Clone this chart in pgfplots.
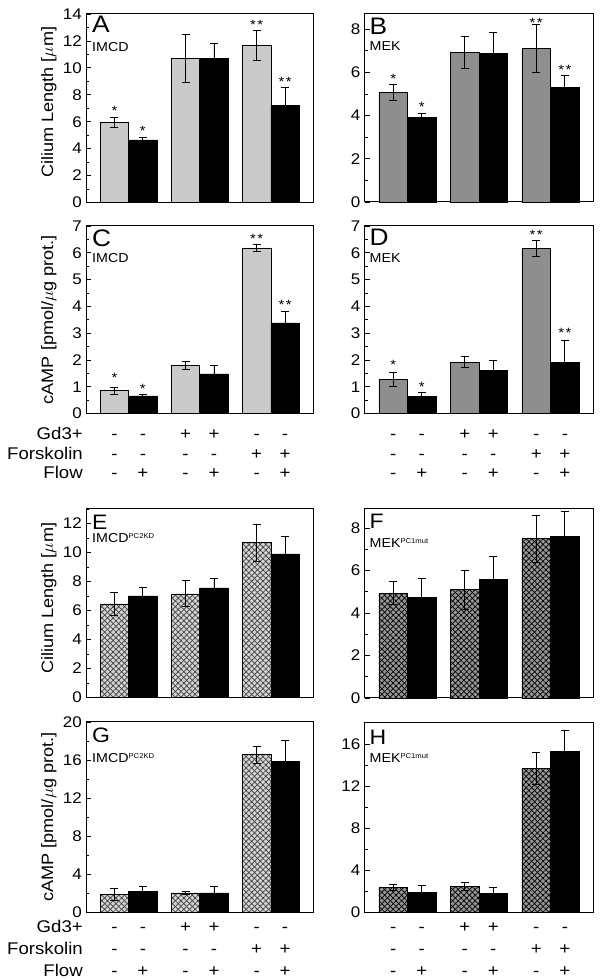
\documentclass[border=0pt]{standalone}
\usepackage{fontspec}
\setmainfont{Liberation Sans}[FakeStretch=1.1]
\usepackage{pgfplots}
\pgfplotsset{compat=1.18}
\usetikzlibrary{patterns.meta}
\definecolor{lg}{RGB}{202,202,202}
\definecolor{dg}{RGB}{142,142,142}
\definecolor{hlg}{RGB}{212,212,212}
\definecolor{hdg}{RGB}{150,150,150}
\DeclareRobustCommand\sgn[3]{\strut#1\\\strut#2\\\strut#3}
\pgfplotsset{
  panel/.style={
    scale only axis, anchor=south west, clip=false,
    xmin=-0.6, xmax=2.6, ymin=0,
    xtick=\empty, ytick pos=left, tick align=inside,
    major tick length=5bp, minor tick length=3bp, minor y tick num=1,
    axis line style={line width=1bp},
    every tick/.append style={line width=0.8bp, black},
    yticklabel style={font=\fontsize{15.5}{18}\selectfont, inner sep=0pt, xshift=-4bp},
    /pgf/number format/assume math mode=true,
    ylabel style={font=\fontsize{16.5}{20}\selectfont, anchor=base},
  },
  leftcol/.style={width=227.5bp},
  rightcol/.style={width=229bp},
  signs/.style={
    xtick={-0.2,0.2,0.8,1.2,1.8,2.2},
    xticklabels={\sgn{-}{-}{-},\sgn{-}{-}{+},\sgn{+}{-}{-},\sgn{+}{-}{+},\sgn{-}{+}{-},\sgn{-}{+}{+}},
    xtick style={draw=none},
    xticklabel style={align=center, inner sep=0pt, font=\fontsize{17}{#1}\selectfont},
  },
  barbase/.style={ybar, bar width=0.4, bar shift=0pt, draw=black, line width=0.6bp,
    error bars/.cd, y dir=both, y explicit,
    error bar style={line width=0.8bp, black},
    error mark options={rotate=90, mark size=4bp, line width=0.8bp, black}},
  solidbar/.style={fill=#1, barbase},
  hatchbar/.style 2 args={fill=#1,
    postaction={pattern={Lines[angle=45,distance=4bp,line width=0.7bp]}, pattern color=#2},
    postaction={pattern={Lines[angle=-45,distance=4bp,line width=0.7bp]}, pattern color=#2},
    barbase},
  stars/.style={draw=none, mark=none, nodes near coords, point meta=explicit symbolic,
    every node near coord/.append style={anchor=south, inner sep=1bp, font=\fontsize{13.5}{13.5}\selectfont}},
}
\newcommand\panelletter[4][24]{\node[anchor=north west, inner sep=0pt, font=\fontsize{#1}{#1}\selectfont] at ([xshift=#3, yshift=#4]axis description cs:0,1) {#2};}
\newcommand\panelsub[3]{\node[anchor=north west, inner sep=0pt, font=\fontsize{13}{13}\selectfont] at ([xshift=#2, yshift=#3]axis description cs:0,1) {#1};}
\newcommand\supx[1]{\raisebox{3.5bp}{\fontsize{7}{7}\selectfont #1}}
\newcommand\rowlabels[2]{\node[anchor=north east, inner sep=0pt, align=right, font=\fontsize{17}{#1}\selectfont] at ([xshift=-3bp, yshift=#2]axis description cs:0,0) {\strut Gd3+\\\strut Forskolin\\\strut Flow};}
\begin{document}
\begin{tikzpicture}
\path[use as bounding box] (0,0) rectangle (602bp,980bp);
% ---------- A ----------
\begin{axis}[panel, leftcol, at={(86bp,777.5bp)}, height=188.5bp, ymax=14, ytick distance=2,
  ylabel={Cilium Length [$\mu$m]}, ylabel style={at={([xshift=-33bp, yshift=6bp]axis description cs:0,0.5)}}]
\addplot[solidbar=lg] coordinates {(-0.2,5.95) +- (0,0.4) (0.8,10.7) +- (0,1.8) (1.8,11.65) +- (0,1.12)};
\addplot[solidbar=black] coordinates {(0.2,4.65) +- (0,0.22) (1.2,10.7) +- (0,1.15) (2.2,7.2) +- (0,1.35)};
\addplot[stars] coordinates {(-0.2,6.35) [*] (0.2,4.87) [*] (1.8,12.77) [*\kern1.5bp*] (2.2,8.55) [*\kern1.5bp*]};
\panelletter{A}{6bp}{-2bp}
\panelsub{IMCD}{6bp}{-28bp}
\end{axis}
% ---------- B ----------
\begin{axis}[panel, rightcol, at={(364.5bp,778bp)}, height=188bp, ymax=8.7, ytick={0,2,4,6,8}]
\addplot[solidbar=dg] coordinates {(-0.2,5.07) +- (0,0.38) (0.8,6.92) +- (0,0.74) (1.8,7.1) +- (0,1.1)};
\addplot[solidbar=black] coordinates {(0.2,3.92) +- (0,0.2) (1.2,6.87) +- (0,1.0) (2.2,5.32) +- (0,0.54)};
\addplot[stars] coordinates {(-0.2,5.45) [*] (0.2,4.12) [*] (1.8,8.04) [*\kern1.5bp*] (2.2,5.86) [*\kern1.5bp*]};
\panelletter{B}{5bp}{-4bp}
\panelsub{MEK}{5bp}{-27bp}
\end{axis}
% ---------- C ----------
\begin{axis}[panel, leftcol, signs=19.8bp, xticklabel style={yshift=-11.8bp}, at={(86bp,566.5bp)}, height=187.5bp, ymax=7, ytick distance=1,
  ylabel={cAMP [pmol/$\mu$g prot.]}, ylabel style={at={([xshift=-33bp]axis description cs:0,0.5)}}]
\addplot[solidbar=lg] coordinates {(-0.2,0.86) +- (0,0.13) (0.8,1.8) +- (0,0.14) (1.8,6.18) +- (0,0.14)};
\addplot[solidbar=black] coordinates {(0.2,0.66) +- (0,0.06) (1.2,1.48) +- (0,0.32) (2.2,3.38) +- (0,0.44)};
\addplot[stars] coordinates {(-0.2,1.1) [*] (0.2,0.72) [*] (1.8,6.32) [*\kern1.5bp*] (2.2,3.82) [*\kern1.5bp*]};
\panelletter{C}{6bp}{-4bp}
\panelsub{IMCD}{6bp}{-27bp}
\rowlabels{19.8bp}{-11.8bp}
\end{axis}
% ---------- D ----------
\begin{axis}[panel, rightcol, signs=19.8bp, xticklabel style={yshift=-11.8bp}, at={(364.5bp,566.5bp)}, height=187.5bp, ymax=7, ytick distance=1]
\addplot[solidbar=dg] coordinates {(-0.2,1.27) +- (0,0.25) (0.8,1.92) +- (0,0.2) (1.8,6.17) +- (0,0.29)};
\addplot[solidbar=black] coordinates {(0.2,0.65) +- (0,0.12) (1.2,1.62) +- (0,0.35) (2.2,1.92) +- (0,0.82)};
\addplot[stars] coordinates {(-0.2,1.6) [*] (0.2,0.79) [*] (1.8,6.46) [*\kern1.5bp*] (2.2,2.78) [*\kern1.5bp*]};
\panelletter{D}{5bp}{-3bp}
\panelsub{MEK}{5bp}{-27bp}
\end{axis}
% ---------- E ----------
\begin{axis}[panel, leftcol, at={(86bp,282.5bp)}, height=188.5bp, ymax=13, ytick distance=2,
  ylabel={Cilium Length [$\mu$m]}, ylabel style={at={([xshift=-33bp, yshift=5bp]axis description cs:0,0.5)}}]
\addplot[hatchbar={hlg}{black!75}] coordinates {(-0.2,6.46) +- (0,0.8) (0.8,7.15) +- (0,0.9) (1.8,10.67) +- (0,1.3)};
\addplot[solidbar=black] coordinates {(0.2,7.0) +- (0,0.62) (1.2,7.56) +- (0,0.62) (2.2,9.9) +- (0,1.24)};
\panelletter[21]{E}{6bp}{-6bp}
\panelsub{IMCD\supx{PC2KD}}{6bp}{-24bp}
\end{axis}
% ---------- F ----------
\begin{axis}[panel, rightcol, at={(364.5bp,282bp)}, height=189bp, ymax=8.9, ytick={0,2,4,6,8}]
\addplot[hatchbar={hdg}{black}] coordinates {(-0.2,4.94) +- (0,0.55) (0.8,5.1) +- (0,0.92) (1.8,7.5) +- (0,1.12)};
\addplot[solidbar=black] coordinates {(0.2,4.74) +- (0,0.87) (1.2,5.59) +- (0,1.1) (2.2,7.6) +- (0,1.2)};
\panelletter[21]{F}{5bp}{-5bp}
\panelsub{MEK\supx{PC1mut}}{5bp}{-29bp}
\end{axis}
% ---------- G ----------
\begin{axis}[panel, leftcol, signs=21.7bp, xticklabel style={yshift=-5.6bp}, at={(86bp,68bp)}, height=190bp, ymax=20, ytick distance=4,
  ylabel={cAMP [pmol/$\mu$g prot.]}, ylabel style={at={([xshift=-33bp]axis description cs:0,0.5)}}]
\addplot[hatchbar={hlg}{black!75}] coordinates {(-0.2,1.86) +- (0,0.6) (0.8,2.0) +- (0,0.15) (1.8,16.56) +- (0,0.88)};
\addplot[solidbar=black] coordinates {(0.2,2.14) +- (0,0.56) (1.2,2.0) +- (0,0.67) (2.2,15.82) +- (0,2.2)};
\panelletter[21]{G}{6bp}{-6bp}
\panelsub{IMCD\supx{PC2KD}}{6bp}{-31bp}
\rowlabels{21.7bp}{-5.6bp}
\end{axis}
% ---------- H ----------
\begin{axis}[panel, rightcol, signs=21.7bp, xticklabel style={yshift=-5.6bp}, at={(364.5bp,68bp)}, height=189bp, ymax=18, ytick={0,4,8,12,16}]
\addplot[hatchbar={hdg}{black}] coordinates {(-0.2,2.35) +- (0,0.32) (0.8,2.44) +- (0,0.38) (1.8,13.69) +- (0,1.5)};
\addplot[solidbar=black] coordinates {(0.2,1.88) +- (0,0.66) (1.2,1.78) +- (0,0.6) (2.2,15.33) +- (0,2.0)};
\panelletter[21]{H}{5bp}{-7bp}
\panelsub{MEK\supx{PC1mut}}{5bp}{-30bp}
\end{axis}
\end{tikzpicture}
\end{document}
